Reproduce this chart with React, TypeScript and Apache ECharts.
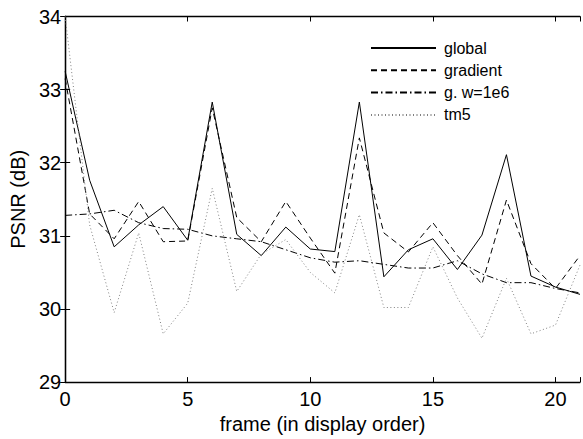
import React, { useEffect, useRef } from "react";
import * as echarts from "echarts";

const frames = [0, 1, 2, 3, 4, 5, 6, 7, 8, 9, 10, 11, 12, 13, 14, 15, 16, 17, 18, 19, 20, 21];
const globalVals = [33.25, 31.76, 30.85, 31.15, 31.4, 30.94, 32.83, 31.02, 30.73, 31.12, 30.82, 30.785, 32.83, 30.44, 30.81, 30.96, 30.54, 31.01, 32.11, 30.45, 30.3, 30.2];
const gradientVals = [33.15, 31.3, 30.96, 31.47, 30.92, 30.93, 32.75, 31.25, 30.92, 31.47, 30.97, 30.49, 32.34, 31.04, 30.78, 31.18, 30.73, 30.34, 31.49, 30.62, 30.28, 30.73];
const gw1e6Vals = [31.28, 31.3, 31.35, 31.18, 31.1, 31.09, 31.0, 30.96, 30.92, 30.81, 30.7, 30.64, 30.66, 30.61, 30.56, 30.56, 30.66, 30.48, 30.36, 30.36, 30.28, 30.22];
const tm5Vals = [34.0, 31.15, 29.95, 31.04, 29.66, 30.08, 31.65, 30.24, 30.75, 30.95, 30.5, 30.22, 31.29, 30.02, 30.02, 30.85, 30.15, 29.6, 30.42, 29.66, 29.78, 30.6];
const seriesNames = ["global", "gradient", "g. w=1e6", "tm5"];

const FONT = "'Liberation Sans', Arial, Helvetica, sans-serif";

export default function App() {
  const ref = useRef<HTMLDivElement>(null);
  useEffect(() => {
    if (!ref.current) return;
    const chart = echarts.init(ref.current, undefined, { renderer: "svg" });
    const pair = (vals: number[]) => frames.map((f, i) => [f, vals[i]]);
    const axisLine = { show: true, lineStyle: { color: "#000", width: 1.3 } };
    const tick = { show: true, inside: true, length: 5, lineStyle: { color: "#000", width: 1 } };
    chart.setOption({
      animation: false,
      backgroundColor: "#fff",
      textStyle: { fontFamily: FONT },
      grid: { left: 61, right: 1, top: 16.5, bottom: 50, containLabel: false },
      legend: {
        orient: "vertical",
        left: 370,
        top: 40,
        padding: 0,
        itemWidth: 65,
        itemHeight: 14,
        itemGap: 6.3,
        data: seriesNames,
        itemStyle: { opacity: 0 },
        textStyle: { fontFamily: FONT, fontSize: 16, color: "#000", padding: [0, 0, 0, 3] },
      },
      xAxis: [
        {
          type: "value",
          min: 0,
          max: 21,
          interval: 5,
          name: "frame (in display order)",
          nameLocation: "middle",
          nameGap: 26,
          nameTextStyle: { fontFamily: FONT, fontSize: 20, color: "#000" },
          axisLine,
          axisTick: tick,
          axisLabel: {
            fontFamily: FONT,
            fontSize: 20,
            color: "#000",
            margin: 7,
            formatter: (v: number) => (v % 5 === 0 ? String(v) : ""),
          },
          splitLine: { show: false },
        },
        {
          type: "value",
          position: "top",
          min: 0,
          max: 21,
          interval: 5,
          axisLine,
          axisTick: tick,
          axisLabel: { show: false },
          splitLine: { show: false },
        },
      ],
      yAxis: [
        {
          type: "value",
          min: 29,
          max: 34,
          interval: 1,
          name: "PSNR (dB)",
          nameLocation: "middle",
          nameGap: 33,
          nameTextStyle: { fontFamily: FONT, fontSize: 20, color: "#000" },
          axisLine,
          axisTick: tick,
          axisLabel: { fontFamily: FONT, fontSize: 20, color: "#000", margin: 4 },
          splitLine: { show: false },
        },
        {
          type: "value",
          position: "right",
          min: 29,
          max: 34,
          interval: 1,
          axisLine,
          axisTick: tick,
          axisLabel: { show: false },
          splitLine: { show: false },
        },
      ],
      series: [
        {
          name: seriesNames[0],
          type: "line",
          data: pair(globalVals),
          symbol: "none",
          showSymbol: false,
          lineStyle: { color: "#000", width: 1, type: "solid" },
          itemStyle: { color: "#000" },
        },
        {
          name: seriesNames[1],
          type: "line",
          data: pair(gradientVals),
          symbol: "none",
          showSymbol: false,
          lineStyle: { color: "#000", width: 1, type: [6, 4] },
          itemStyle: { color: "#000" },
        },
        {
          name: seriesNames[2],
          type: "line",
          data: pair(gw1e6Vals),
          symbol: "none",
          showSymbol: false,
          lineStyle: { color: "#000", width: 1, type: [7, 3, 1.5, 3] },
          itemStyle: { color: "#000" },
        },
        {
          name: seriesNames[3],
          type: "line",
          data: pair(tm5Vals),
          symbol: "none",
          showSymbol: false,
          lineStyle: { color: "#808080", width: 1, type: [1, 2.5] },
          itemStyle: { color: "#808080" },
        },
      ],
    });
    return () => chart.dispose();
  }, []);
  return (
    <div
      ref={ref}
      style={{ position: "absolute", left: 0, top: 0, width: 583, height: 439, background: "#fff" }}
    />
  );
}
